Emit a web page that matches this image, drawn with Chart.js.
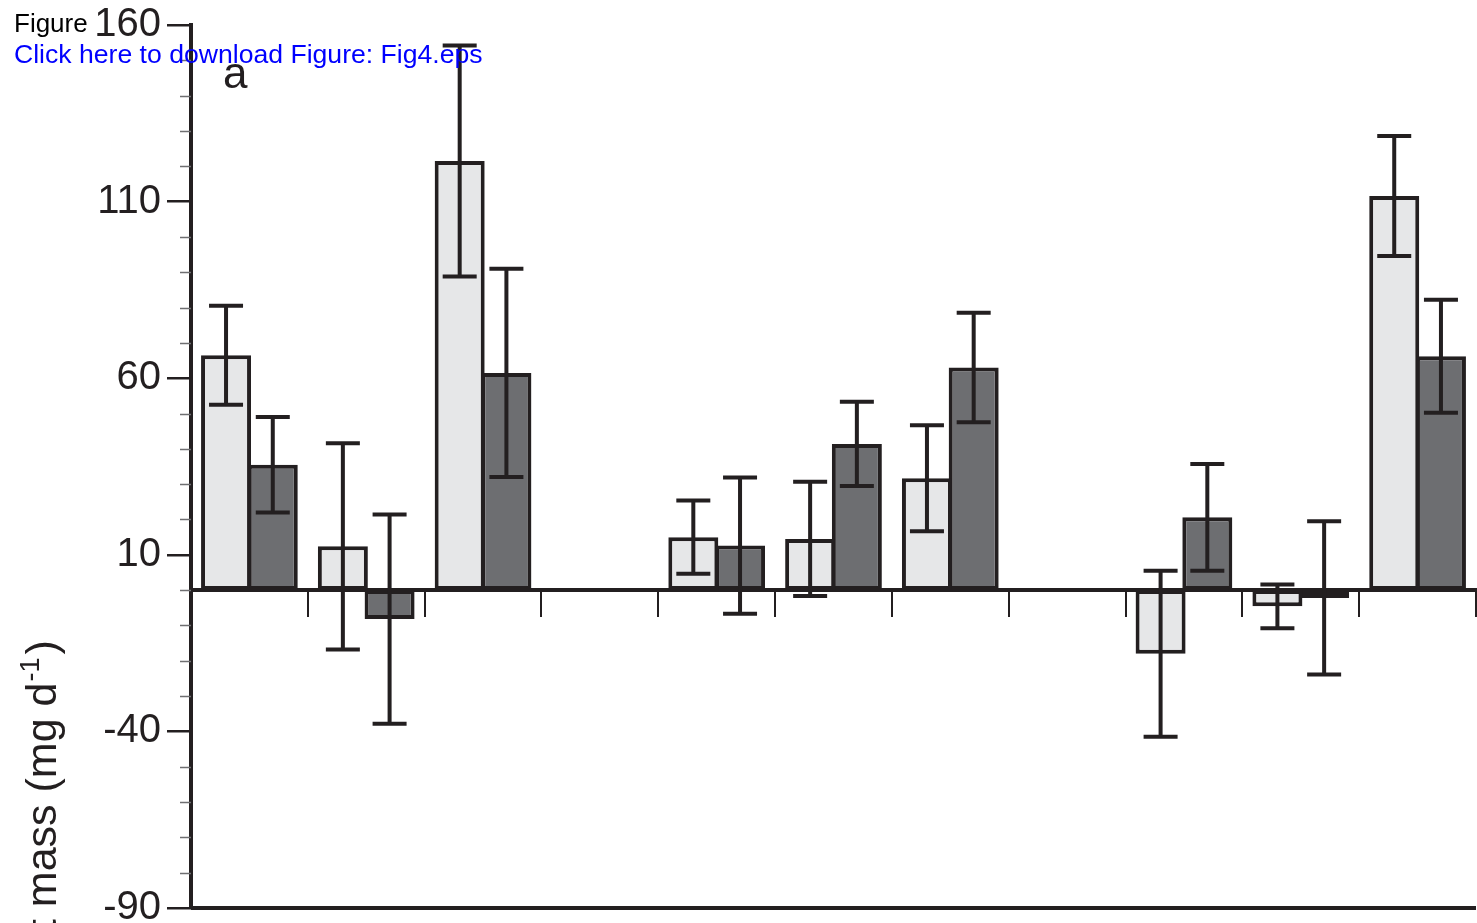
<!DOCTYPE html>
<html>
<head>
<meta charset="utf-8">
<script src="https://cdn.jsdelivr.net/npm/chart.js@4/dist/chart.umd.min.js"></script>
<style>
  html, body { margin: 0; padding: 0; background: #fff; overflow: hidden; }
  #wrap { position: relative; width: 1477px; height: 923px; }
  .note { position: absolute; left: 14px; font-family: "Liberation Sans", Arial, sans-serif; line-height: 1; white-space: nowrap; }
  #fig { top: 10px; font-size: 26px; color: #000; }
  #dl { top: 41px; font-size: 26.6px; color: #0000ff; }
</style>
</head>
<body>
<div id="wrap">
  <canvas id="massChart"></canvas>
  <div class="note" id="fig">Figure</div>
  <div class="note" id="dl">Click here to download Figure: Fig4.eps</div>
</div>
<script>
// 11 positions along the x axis, two series each (4 and 8 are empty)
const groups = ['1','2','3','4','5','6','7','8','9','10','11'];

const lightValues = [66.5, 12.4, 121.5, null, 15.0, 14.5, 31.7, null, -18.0, -4.6, 111.6];
const lightErr    = [14.0, 29.2, 32.7, null, 10.4, 16.2, 15.0, null, 23.5, 6.2, 17.0];

const darkValues  = [35.5, -8.2, 61.5, null, 12.6, 41.4, 63.0, null, 20.6, -2.2, 66.2];
const darkErr     = [13.5, 29.6, 29.5, null, 19.3, 11.9, 15.5, null, 15.1, 21.7, 16.0];

const yTicks = [-90, -40, 10, 60, 110, 160];
const yMinor = [-80, -70, -60, -50, -30, -20, -10, 0, 20, 30, 40, 50, 70, 80, 90, 100, 120, 130, 140, 150];

const INK = '#231f20';
const FONT = '"Liberation Sans", Arial, sans-serif';

// error bars, minor ticks, bottom rule and the text drawn on the canvas
const extras = {
  id: 'extras',
  afterDatasetsDraw(chart) {
    const ctx = chart.ctx;
    const y = chart.scales.y;
    const errs = [lightErr, darkErr];
    ctx.save();
    ctx.strokeStyle = INK;
    ctx.lineWidth = 4;
    chart.data.datasets.forEach((ds, di) => {
      const meta = chart.getDatasetMeta(di);
      ds.data.forEach((v, i) => {
        if (v === null || errs[di][i] === null) return;
        const x = meta.data[i].x;
        const top = y.getPixelForValue(v + errs[di][i]);
        const bot = y.getPixelForValue(v - errs[di][i]);
        ctx.beginPath();
        ctx.moveTo(x, top); ctx.lineTo(x, bot);
        ctx.moveTo(x - 17, top); ctx.lineTo(x + 17, top);
        ctx.moveTo(x - 17, bot); ctx.lineTo(x + 17, bot);
        ctx.stroke();
      });
    });
    ctx.restore();
  },
  afterDraw(chart) {
    const ctx = chart.ctx;
    const y = chart.scales.y;
    const area = chart.chartArea;
    ctx.save();
    // minor ticks
    ctx.strokeStyle = '#6f6f71';
    ctx.lineWidth = 1.5;
    yMinor.forEach(v => {
      const py = Math.round(y.getPixelForValue(v)) + 0.5;
      ctx.beginPath();
      ctx.moveTo(area.left - 11, py);
      ctx.lineTo(area.left, py);
      ctx.stroke();
    });
    // bottom rule
    ctx.strokeStyle = INK;
    ctx.lineWidth = 4;
    const by = y.getPixelForValue(-90);
    ctx.beginPath();
    ctx.moveTo(area.left, by);
    ctx.lineTo(area.right, by);
    ctx.stroke();
    // panel letter
    ctx.fillStyle = INK;
    ctx.font = '44px ' + FONT;
    ctx.textBaseline = 'alphabetic';
    ctx.fillText('a', 223, 88);
    // axis title with superscript
    ctx.translate(56, 986);
    ctx.rotate(-Math.PI / 2);
    ctx.font = '43px ' + FONT;
    const main = 'Net mass (mg d';
    ctx.fillText(main, 0, 0);
    let w = ctx.measureText(main).width;
    ctx.font = '27px ' + FONT;
    ctx.fillText('-1', w + 1, -17);
    w += ctx.measureText('-1').width + 4;
    ctx.font = '43px ' + FONT;
    ctx.fillText(')', w, 0);
    ctx.restore();
  }
};

new Chart(document.getElementById('massChart'), {
  type: 'bar',
  data: {
    labels: groups,
    datasets: [
      { label: 'Series A', data: lightValues, backgroundColor: '#e6e7e8' },
      { label: 'Series B', data: darkValues, backgroundColor: '#6d6e71' }
    ]
  },
  options: {
    responsive: true,
    maintainAspectRatio: false,
    animation: false,
    devicePixelRatio: 1,
    layout: { padding: { top: 25, bottom: 15, left: 0, right: 1 } },
    datasets: {
      bar: {
        categoryPercentage: 0.8,
        barPercentage: 1.07,
        borderColor: INK,
        borderWidth: 4,
        borderSkipped: false
      }
    },
    plugins: {
      legend: { display: false },
      tooltip: { enabled: false }
    },
    scales: {
      x: {
        position: { y: 0 },
        offset: true,
        ticks: { display: false },
        grid: {
          offset: true,
          drawOnChartArea: false,
          drawTicks: true,
          tickLength: 25,
          color: INK,
          lineWidth: 2
        },
        border: { display: true, color: INK, width: 4 }
      },
      y: {
        min: -90,
        max: 160,
        afterBuildTicks(scale) {
          scale.ticks = yTicks.map(v => ({ value: v }));
        },
        afterFit(scale) {
          scale.width = 191;
          scale.paddingTop = 0;
          scale.paddingBottom = 0;
        },
        ticks: {
          color: INK,
          padding: 6,
          font: { family: FONT, size: 40 }
        },
        grid: {
          drawOnChartArea: false,
          tickLength: 24,
          color: INK,
          lineWidth: 2.5
        },
        border: { display: true, color: INK, width: 4 }
      }
    }
  },
  plugins: [extras]
});
</script>
</body>
</html>
